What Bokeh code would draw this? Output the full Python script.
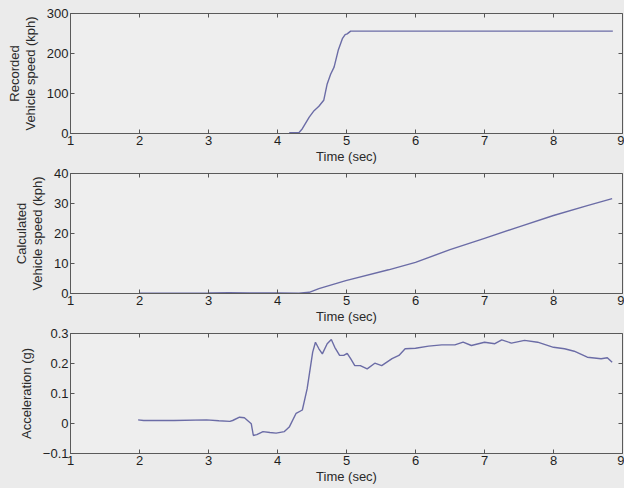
import math
from bokeh.plotting import figure
from bokeh.layouts import column
from bokeh.models import FixedTicker, Range1d
from bokeh.embed import file_html
from bokeh.resources import INLINE

# ---------------- data ----------------
x_ticks = [1, 2, 3, 4, 5, 6, 7, 8, 9]
x_lo, x_hi = 1, 9

rec_t = [4.17, 4.31, 4.36, 4.46, 4.53, 4.60, 4.67, 4.72, 4.77, 4.82, 4.88,
         4.94, 4.98, 5.01, 5.06, 8.86]
rec_v = [2, 2, 12, 41, 57, 68, 83, 124, 148, 166, 208, 237, 247, 249, 256, 256]
rec_ticks = [0, 100, 200, 300]

calc_t = [2.0, 2.5, 3.0, 3.3, 3.6, 4.0, 4.31, 4.46, 4.60, 4.99, 5.61, 6.0,
          6.5, 7.0, 7.51, 8.0, 8.49, 8.85]
calc_v = [0.1, 0.1, 0.2, 0.3, 0.2, 0.2, 0.1, 0.4, 1.6, 4.3, 7.9, 10.4, 14.6,
          18.4, 22.3, 26.0, 29.3, 31.6]
calc_ticks = [0, 10, 20, 30, 40]

acc_t = [1.98, 2.06, 2.5, 2.97, 3.15, 3.31, 3.35, 3.45, 3.52, 3.62,
         3.65, 3.70, 3.79, 3.89, 3.98, 4.10, 4.17, 4.27, 4.36, 4.43,
         4.51, 4.55, 4.60, 4.65, 4.72, 4.78, 4.83, 4.90, 4.96, 5.01,
         5.06, 5.12, 5.20, 5.30, 5.41, 5.51, 5.66, 5.76, 5.85, 6.0,
         6.19, 6.38, 6.57, 6.69, 6.81, 7.0, 7.15, 7.25, 7.39, 7.58,
         7.77, 8.0, 8.16, 8.30, 8.49, 8.69, 8.78, 8.85]
acc_v = [0.012, 0.010, 0.010, 0.012, 0.009, 0.007, 0.010, 0.021, 0.019, -0.001,
         -0.040, -0.037, -0.027, -0.030, -0.032, -0.027, -0.012, 0.034, 0.045, 0.116,
         0.238, 0.271, 0.249, 0.232, 0.266, 0.280, 0.254, 0.227, 0.227, 0.234,
         0.216, 0.193, 0.193, 0.182, 0.201, 0.193, 0.216, 0.227, 0.249, 0.251,
         0.258, 0.262, 0.262, 0.271, 0.260, 0.271, 0.266, 0.279, 0.268, 0.277,
         0.271, 0.254, 0.249, 0.241, 0.221, 0.216, 0.219, 0.204]
acc_ticks = [-0.1, 0, 0.1, 0.2, 0.3]

# ---------------- style ----------------
BG = "#ebebeb"
PLOT_BG = "#eeeeee"
LINE = "#6b6ca6"
TICK = "#555555"
FONT = "Liberation Sans"
TICKFS = "13px"
LABFS = "13px"


def make(height, top, bottom, y_lo, y_hi, y_ticks, y_label, t, v, overrides=None):
    p = figure(width=624, height=height,
               x_range=Range1d(x_lo, x_hi), y_range=Range1d(y_lo, y_hi),
               output_backend="svg", toolbar_location=None,
               min_border_left=70, min_border_right=2,
               min_border_top=top, min_border_bottom=bottom,
               background_fill_color=PLOT_BG, border_fill_color=BG)
    p.grid.visible = False
    p.outline_line_color = "#5a5a5a"
    p.outline_line_width = 1

    xa = p.xaxis[0]
    xa.ticker = FixedTicker(ticks=x_ticks)
    xa.axis_label = "Time (sec)"
    xa.axis_label_standoff = 1
    xa.major_label_standoff = 2

    ya = p.yaxis[0]
    ya.ticker = FixedTicker(ticks=y_ticks)
    ya.axis_label = y_label
    ya.axis_label_standoff = 6
    ya.major_label_standoff = 2
    ya.axis_label_text_line_height = 1.05
    if overrides:
        ya.major_label_overrides = overrides

    for ax in (xa, ya):
        ax.major_tick_in = 4
        ax.major_tick_out = 0
        ax.minor_tick_line_color = None
        ax.major_tick_line_color = TICK
        ax.axis_line_color = "#5a5a5a"
        ax.major_label_text_font = FONT
        ax.major_label_text_font_size = TICKFS
        ax.major_label_text_color = "#1e1e1e"
        ax.axis_label_text_font = FONT
        ax.axis_label_text_font_size = LABFS
        ax.axis_label_text_font_style = "normal"
        ax.axis_label_text_color = "#2a2a2a"

    # inward tick marks on the top and right edges (box on)
    p.scatter(x_ticks, [y_hi] * len(x_ticks), marker="dash", angle=math.pi / 2,
              size=8, line_color=TICK, line_width=1)
    p.scatter([x_hi] * len(y_ticks), y_ticks, marker="dash",
              size=8, line_color=TICK, line_width=1)

    p.line(t, v, line_color=LINE, line_width=1.4)
    return p


p1 = make(166, 13, 33, 0, 300, rec_ticks, "Recorded\nVehicle speed (kph)", rec_t, rec_v)
p2 = make(160, 7, 33, 0, 40, calc_ticks, "Calculated\nVehicle speed (kph)", calc_t, calc_v)
p3 = make(162, 7, 35, -0.1, 0.3, acc_ticks, "Acceleration (g)", acc_t, acc_v,
          overrides={0: "0"})

layout = column(p1, p2, p3, spacing=0, background=BG)

open("out.html", "w").write(file_html(layout, INLINE))
